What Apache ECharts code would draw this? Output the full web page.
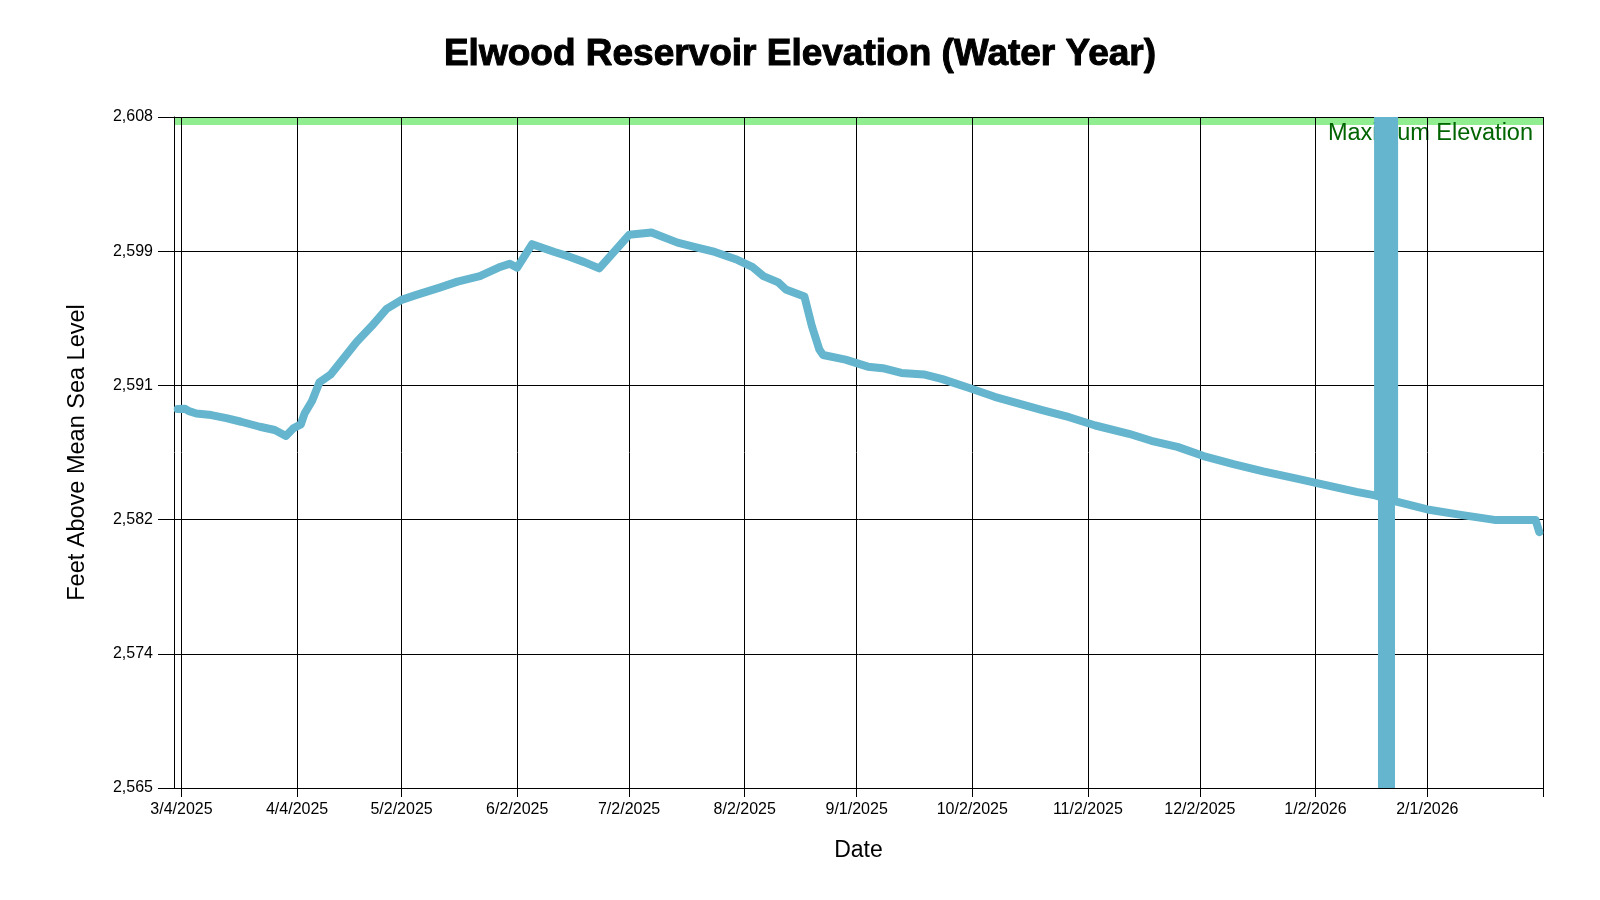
<!DOCTYPE html>
<html>
<head>
<meta charset="utf-8">
<script src="https://cdn.jsdelivr.net/npm/echarts@6/dist/echarts.min.js"></script>
<style>html,body{margin:0;padding:0;background:#fff}#c{width:1600px;height:900px}</style>
</head>
<body>
<div id="c"></div>
<script>
const titleText = 'Elwood Reservoir Elevation (Water Year)';
const yName = 'Feet Above Mean Sea Level';
const xName = 'Date';
const maxLabel = 'Maximum Elevation';

const dates = ['3/3/2025','3/5/2025','3/6/2025','3/8/2025','3/12/2025','3/16/2025','3/20/2025','3/25/2025','3/29/2025','4/1/2025','4/3/2025','4/5/2025','4/6/2025','4/8/2025','4/10/2025','4/13/2025','4/16/2025','4/20/2025','4/24/2025','4/28/2025','5/2/2025','5/6/2025','5/12/2025','5/17/2025','5/23/2025','5/28/2025','5/31/2025','6/2/2025','6/6/2025','6/12/2025','6/16/2025','6/20/2025','6/24/2025','6/27/2025','7/2/2025','7/8/2025','7/15/2025','7/20/2025','7/25/2025','7/31/2025','8/4/2025','8/7/2025','8/11/2025','8/13/2025','8/18/2025','8/20/2025','8/22/2025','8/23/2025','8/29/2025','9/4/2025','9/8/2025','9/13/2025','9/19/2025','9/24/2025','10/1/2025','10/8/2025','10/15/2025','10/21/2025','10/28/2025','11/4/2025','11/13/2025','11/19/2025','11/26/2025','12/3/2025','12/11/2025','12/19/2025','12/28/2025','1/3/2026','1/13/2026','1/18/2026','1/24/2026','2/1/2026','2/10/2026','2/19/2026','3/2/2026','3/3/2026'];
const elevations = [2589.28,2589.3,2589.15,2589.0,2588.9,2588.7,2588.47,2588.15,2587.94,2587.56,2588.05,2588.3,2589.0,2589.8,2591.0,2591.5,2592.4,2593.6,2594.6,2595.7,2596.28,2596.6,2597.05,2597.45,2597.8,2598.35,2598.6,2598.35,2599.85,2599.35,2599.05,2598.7,2598.3,2599.1,2600.45,2600.6,2599.95,2599.65,2599.35,2598.85,2598.4,2597.8,2597.4,2596.95,2596.5,2594.6,2593.1,2592.75,2592.45,2592.0,2591.9,2591.6,2591.5,2591.2,2590.65,2590.07,2589.6,2589.2,2588.76,2588.23,2587.7,2587.25,2586.86,2586.27,2585.75,2585.29,2584.83,2584.5,2583.98,2583.75,2583.33,2582.85,2582.5,2582.18,2582.18,2581.4];

// bad-data spike readings (pairs of low/high readings at the same time)
const spikeDates = ['1/18/2026 19:00','1/18/2026 19:00',null,'1/19/2026 20:00','1/19/2026 20:00',null,'1/21/2026 01:00','1/21/2026 01:00',null,'1/22/2026 06:00','1/22/2026 06:00',null,'1/23/2026 02:00','1/23/2026 02:00'];
const spikeValues = [2583.75,2608,null,2565,2608,null,2565,2608,null,2565,2608,null,2583.4,2608];

const maxElevation = 2608;
const maxBandBottom = 2607.49;

const yMin = 2565, yMax = 2608;
const yTicks = [2565, 2573.6, 2582.2, 2590.8, 2599.4, 2608];
const xMinDate = '3/2/2025', xMaxDate = '3/4/2026';
const xTickLabels = ['3/4/2025','4/4/2025','5/2/2025','6/2/2025','7/2/2025','8/2/2025','9/1/2025','10/2/2025','11/2/2025','12/2/2025','1/2/2026','2/1/2026'];

function ts(s) {
  const parts = s.split(' ');
  const dmy = parts[0].split('/').map(Number);
  const h = parts[1] ? Number(parts[1].split(':')[0]) : 0;
  return Date.UTC(dmy[2], dmy[0] - 1, dmy[1], h);
}
function fmtDate(v) {
  const d = new Date(v);
  return (d.getUTCMonth() + 1) + '/' + d.getUTCDate() + '/' + d.getUTCFullYear();
}

const FONT = '"Liberation Sans", Arial, sans-serif';
const mainData = dates.map((d, i) => [ts(d), elevations[i]]);
const spikeData = spikeDates.map((d, i) => d === null ? [ts('1/20/2026'), '-'] : [ts(d), spikeValues[i]]);
const xTickVals = xTickLabels.map(ts);
const xTickAll = xTickVals.concat([ts(xMaxDate)]);

const chart = echarts.init(document.getElementById('c'));
chart.setOption({
  animation: false,
  backgroundColor: '#fff',
  title: {
    text: titleText,
    left: 'center',
    top: 31,
    textStyle: { fontFamily: FONT, fontSize: 37, fontWeight: 'bold', color: '#000', textBorderColor: '#000', textBorderWidth: 1 }
  },
  grid: { left: 174, right: 57, top: 117, bottom: 112, outerBoundsMode: 'none' },
  xAxis: {
    type: 'value',
    min: ts(xMinDate),
    max: ts(xMaxDate),
    z: 1.5,
    name: xName,
    nameLocation: 'middle',
    nameGap: 51,
    nameTextStyle: { fontFamily: FONT, fontSize: 23, color: '#000' },
    axisLine: { show: true, lineStyle: { color: '#000', width: 1 } },
    axisTick: { show: true, length: 9, lineStyle: { color: '#000' }, customValues: xTickAll },
    axisLabel: { fontFamily: FONT, fontSize: 16, color: '#000', margin: 14, customValues: xTickVals, formatter: fmtDate },
    splitLine: { show: true, lineStyle: { color: '#000', width: 1 } }
  },
  yAxis: {
    type: 'value',
    min: yMin,
    max: yMax,
    z: 1.5,
    name: yName,
    nameLocation: 'middle',
    nameGap: 84,
    nameTextStyle: { fontFamily: FONT, fontSize: 23.5, color: '#000' },
    axisLine: { show: true, lineStyle: { color: '#000', width: 1 } },
    axisTick: { show: true, length: 16, lineStyle: { color: '#000' }, customValues: yTicks },
    axisLabel: { fontFamily: FONT, fontSize: 16, color: '#000', margin: 21, customValues: yTicks,
      formatter: v => Math.round(v).toLocaleString('en-US') },
    splitLine: { show: true, lineStyle: { color: '#000', width: 1 } }
  },
  series: [
    {
      type: 'line',
      data: mainData,
      showSymbol: false,
      z: 2,
      lineStyle: { color: '#64b5cd', width: 8, cap: 'round', join: 'round' },
      markArea: {
        silent: true,
        z: 1,
        itemStyle: { color: '#90ee90' },
        label: {
          show: true,
          position: 'insideTopRight',
          distance: 0,
          offset: [-10, 5],
          fontFamily: FONT, fontSize: 23.5, color: '#006400'
        },
        data: [[{ yAxis: maxBandBottom, name: maxLabel }, { yAxis: maxElevation }]]
      }
    },
    {
      type: 'line',
      data: spikeData,
      showSymbol: false,
      connectNulls: false,
      z: 2,
      lineStyle: { color: '#64b5cd', width: 8, cap: 'butt', join: 'miter' }
    }
  ]
});
</script>
</body>
</html>
